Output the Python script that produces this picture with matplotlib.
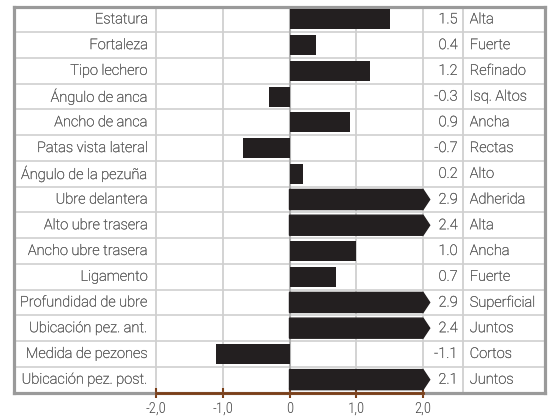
import matplotlib
matplotlib.use("Agg")
import matplotlib.pyplot as plt
import matplotlib.patheffects as pe
from matplotlib.patches import Polygon

# Datos del gráfico lineal
traits = ["Estatura", "Fortaleza", "Tipo lechero", "Ángulo de anca", "Ancho de anca",
          "Patas vista lateral", "Ángulo de la pezuña", "Ubre delantera", "Alto ubre trasera",
          "Ancho ubre trasera", "Ligamento", "Profundidad de ubre", "Ubicación pez. ant.",
          "Medida de pezones", "Ubicación pez. post."]
values = [1.5, 0.4, 1.2, -0.3, 0.9, -0.7, 0.2, 2.9, 2.4, 1.0, 0.7, 2.9, 2.4, -1.1, 2.1]
descriptors = ["Alta", "Fuerte", "Refinado", "Isq. Altos", "Ancha", "Rectas", "Alto",
               "Adherida", "Alta", "Ancha", "Fuerte", "Superficial", "Juntos", "Cortos", "Juntos"]
tick_values = [-2, -1, 0, 1, 2]
tick_labels = ["-2,0", "-1,0", "0", "1,0", "2,0"]

plt.rcParams['font.family'] = ['Roboto', 'DejaVu Sans']

W, H = 549, 417
fig = plt.figure(figsize=(W / 100, H / 100), dpi=100)
left_px, right_px, top_px, bottom_px = 13.5, 544.5, 6.5, 392.5
ax = fig.add_axes([left_px / W, 1 - bottom_px / H,
                   (right_px - left_px) / W, (bottom_px - top_px) / H])

unit = (423 - 156) / 4.0
xmin = -2 - (156 - left_px) / unit
xmax = 2 + (right_px - 423) / unit
n = len(traits)
ax.set_xlim(xmin, xmax)
ax.set_ylim(n, 0)

border = '#9a9a9a'
grid = '#d0d0d0'
text_col = '#555555'
bar_col = '#231f20'
brown = '#7b3f18'

for s in ax.spines.values():
    s.set_color(border)
    s.set_linewidth(2.3)

# table lines
for i in range(1, n):
    ax.axhline(i, color=grid, lw=1.2, zorder=1)
for x in [-2, -1, 1, 2, 2.6]:
    ax.axvline(x, color=grid, lw=1.3, zorder=1)
ax.axvline(0, color='#b0b0b0', lw=1.5, zorder=1)

bar_h = 0.78
fs = 10.5
thick = [pe.withStroke(linewidth=0.2, foreground=text_col)]
txt = dict(fontsize=fs, color=text_col, fontweight='light', va='center', path_effects=thick)
for i, v in enumerate(values):
    y = i + 0.5
    if v > 2:
        pts = [(0, y - bar_h / 2), (2, y - bar_h / 2), (2.1, y),
               (2, y + bar_h / 2), (0, y + bar_h / 2)]
        ax.add_patch(Polygon(pts, closed=True, color=bar_col, zorder=3, clip_on=False))
    else:
        ax.barh(y, v, height=bar_h, color=bar_col, zorder=3)
    ax.text(-2.12, y, traits[i], ha='right', **txt)
    ax.text(2.52, y, f"{v:.1f}", ha='right', **txt)
    ax.text(2.7, y, descriptors[i], ha='left', **txt)

# eje inferior
ax.plot([-2, 2], [n, n], color=brown, lw=2, clip_on=False, zorder=5)
ax.set_yticks([])
ax.set_xticks(tick_values)
ax.set_xticklabels(tick_labels, fontsize=10.5, color='#444444',
                   family='Roboto Condensed', fontweight='light')
ax.tick_params(axis='x', direction='inout', length=7, width=1.5, color=brown, pad=3)

fig.savefig("out.png", dpi=100)
